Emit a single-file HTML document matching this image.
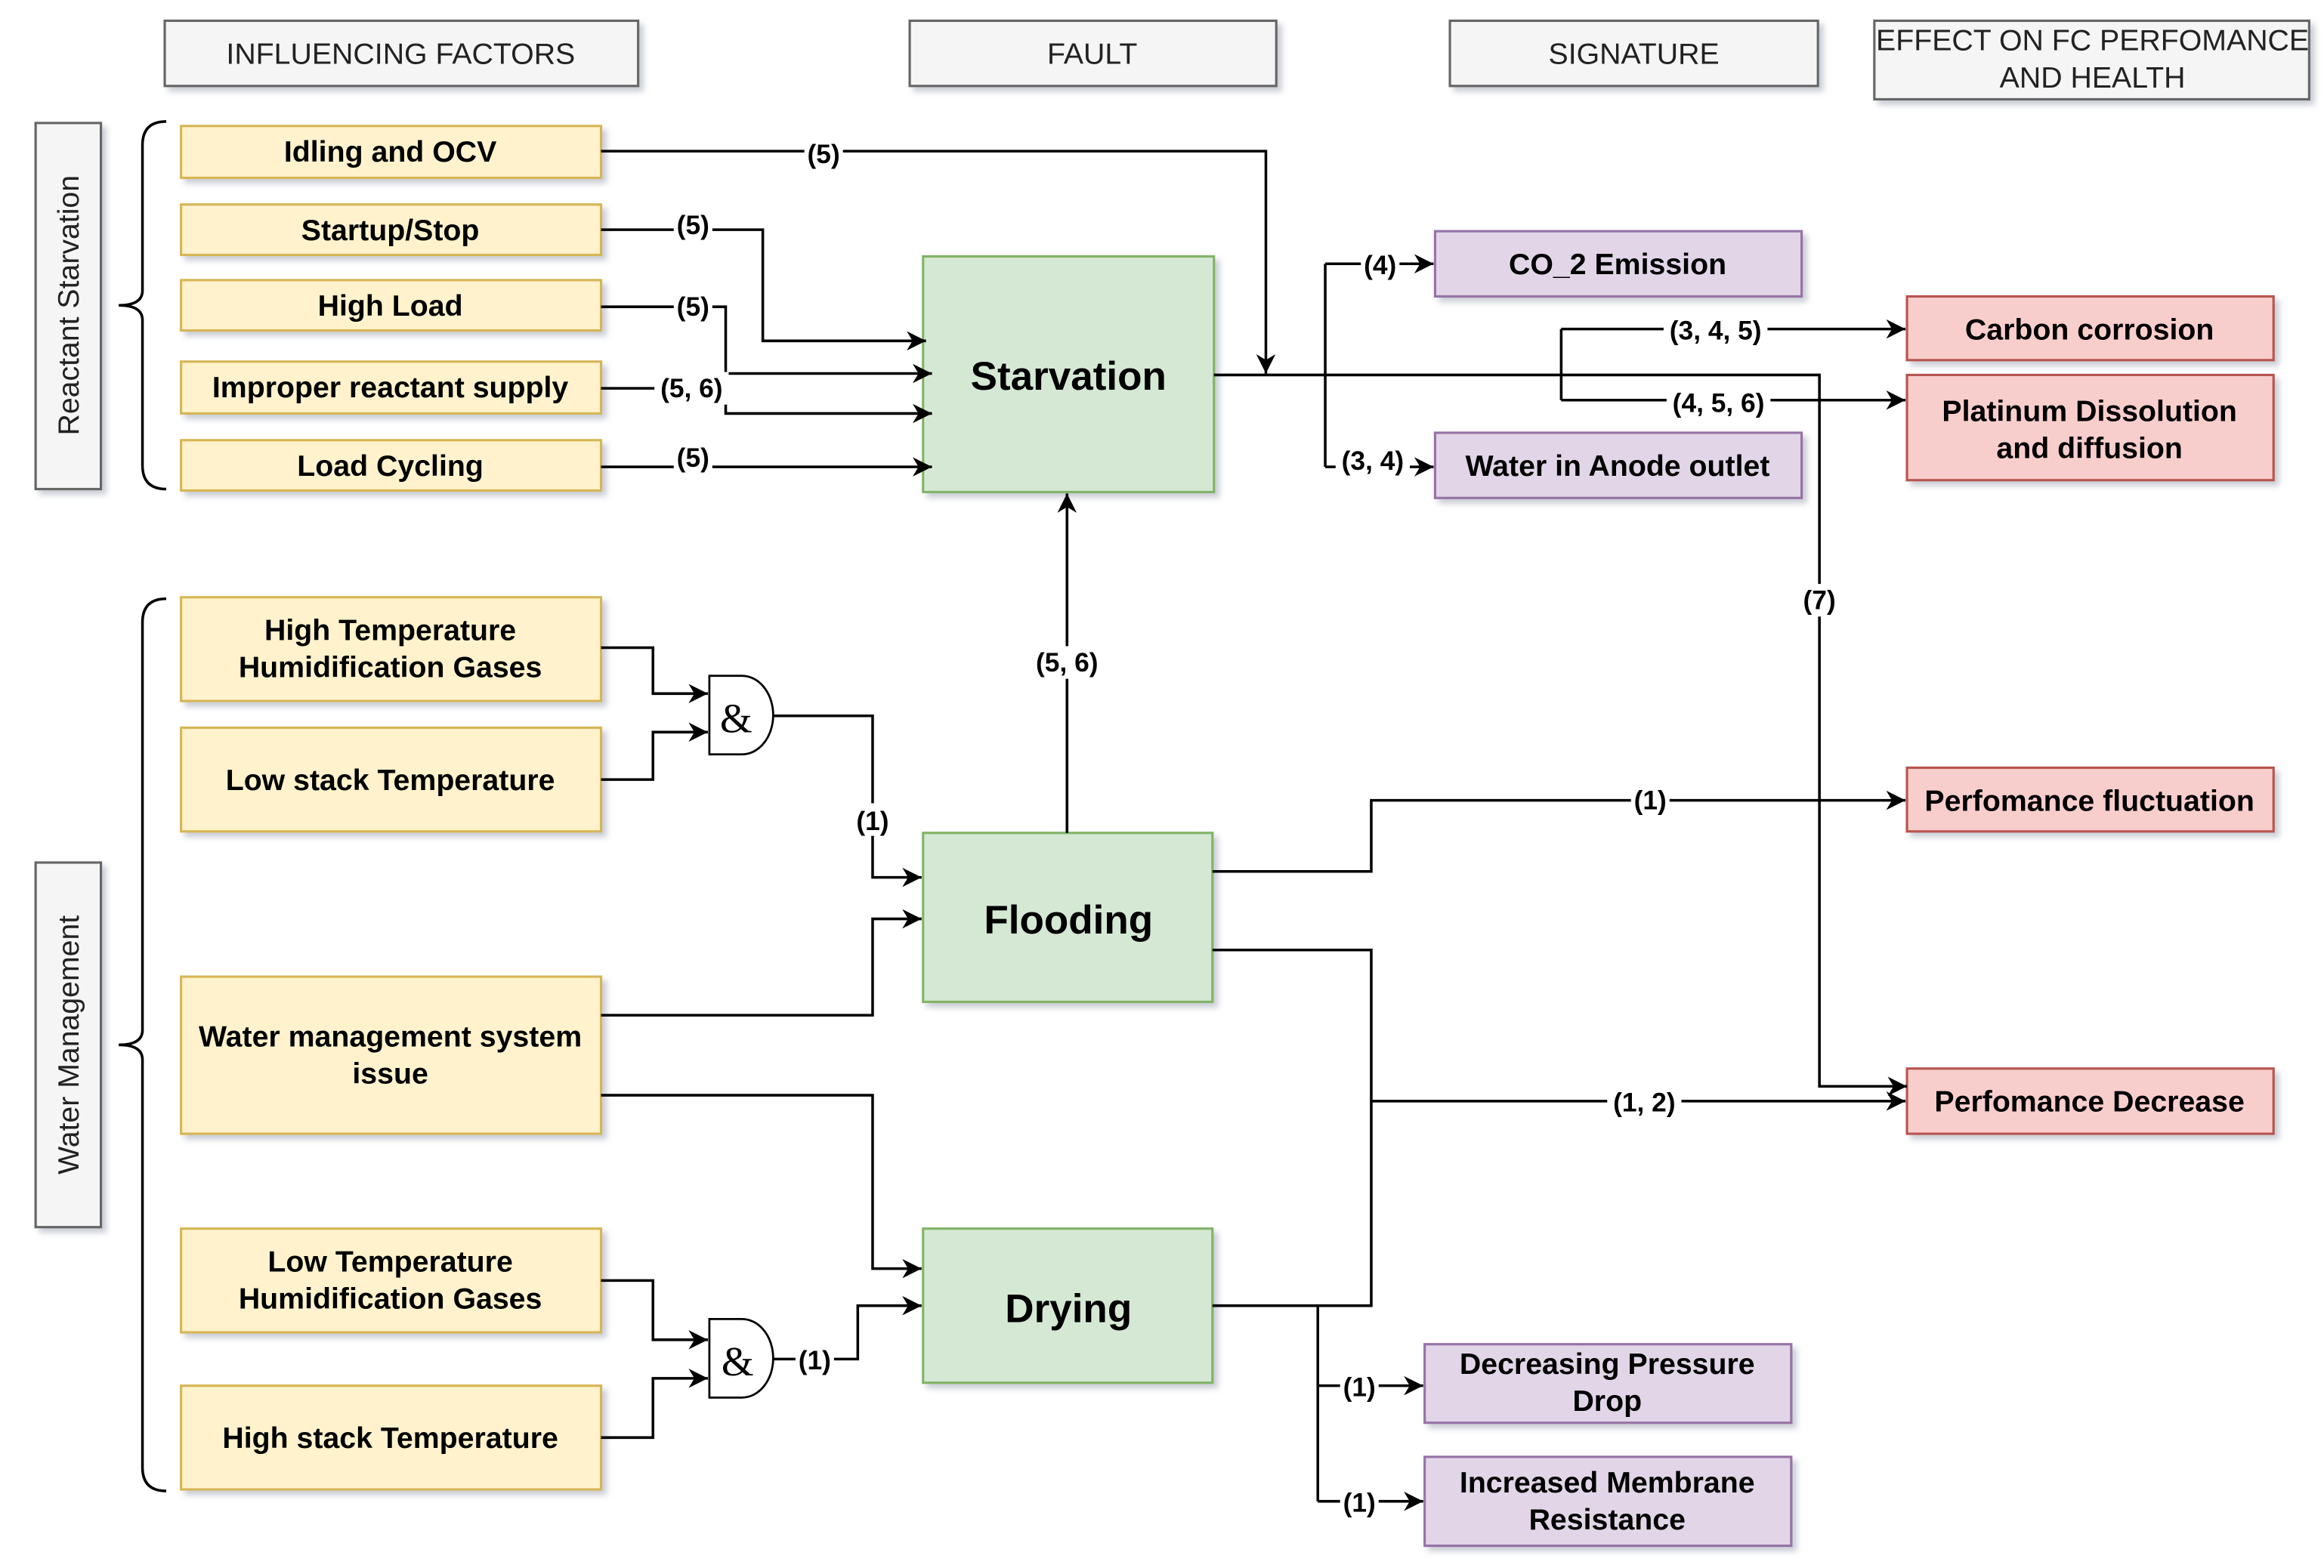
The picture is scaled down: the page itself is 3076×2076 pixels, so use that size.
<!DOCTYPE html>
<html><head><meta charset="utf-8"><style>html,body{margin:0;padding:0;background:#fff}svg{display:block}</style></head><body>
<svg width="3076" height="2076" viewBox="0 0 1566 1058" preserveAspectRatio="none" xmlns="http://www.w3.org/2000/svg" font-family="Liberation Sans, Arial, sans-serif">
<defs>
<filter id="sh" x="-10%" y="-10%" width="130%" height="140%"><feDropShadow dx="3" dy="3" stdDeviation="2" flood-color="#8890a0" flood-opacity="0.45"/></filter>
<marker id="ar" viewBox="0 0 10 10" refX="10" refY="5" markerWidth="13" markerHeight="13" orient="auto" markerUnits="userSpaceOnUse"><path d="M0,0 L10,5 L0,10 L3,5 z" fill="#000"/></marker>
</defs>
<style>
.h{fill:#f5f5f5;stroke:#666;stroke-width:1.6}
.y{fill:#fff2cc;stroke:#d6b656;stroke-width:1.6}
.g{fill:#d5e8d4;stroke:#82b366;stroke-width:1.6}
.p{fill:#e1d5e7;stroke:#9673a6;stroke-width:1.6}
.r{fill:#f8cecc;stroke:#b85450;stroke-width:1.6}
.t{font-weight:bold;font-size:20px;text-anchor:middle;fill:#000}
.big{font-size:27px}
.hd{font-size:20px;text-anchor:middle;fill:#222}
.l{fill:none;stroke:#000;stroke-width:1.8}
.la{fill:none;stroke:#000;stroke-width:1.8;marker-end:url(#ar)}
.lb{font-weight:bold;font-size:18px;text-anchor:middle}
</style>
<g filter="url(#sh)">
<rect class="h" x="111" y="14" width="319" height="44"/>
<rect class="h" x="613" y="14" width="247" height="44"/>
<rect class="h" x="977" y="14" width="248" height="44"/>
<rect class="h" x="1263" y="14" width="293" height="53"/>
<rect class="h" x="24" y="83" width="44" height="247"/>
<rect class="h" x="24" y="582" width="44" height="246"/>
<rect class="y" x="122" y="85" width="283" height="35"/>
<rect class="y" x="122" y="138" width="283" height="34"/>
<rect class="y" x="122" y="189" width="283" height="34"/>
<rect class="y" x="122" y="244" width="283" height="35"/>
<rect class="y" x="122" y="297" width="283" height="34"/>
<rect class="y" x="122" y="403" width="283" height="70"/>
<rect class="y" x="122" y="491" width="283" height="70"/>
<rect class="y" x="122" y="659" width="283" height="106"/>
<rect class="y" x="122" y="829" width="283" height="70"/>
<rect class="y" x="122" y="935" width="283" height="70"/>
<rect class="g" x="622" y="173" width="196" height="159"/>
<rect class="g" x="622" y="562" width="195" height="114"/>
<rect class="g" x="622" y="829" width="195" height="104"/>
<rect class="p" x="967" y="156" width="247" height="44"/>
<rect class="p" x="967" y="292" width="247" height="44"/>
<rect class="p" x="960" y="907" width="247" height="53"/>
<rect class="p" x="960" y="983" width="247" height="60"/>
<rect class="r" x="1285" y="200" width="247" height="43"/>
<rect class="r" x="1285" y="253" width="247" height="71"/>
<rect class="r" x="1285" y="518" width="247" height="43"/>
<rect class="r" x="1285" y="721" width="247" height="44"/>
</g>
<text class="hd" x="270" y="43">INFLUENCING FACTORS</text>
<text class="hd" x="736" y="43">FAULT</text>
<text class="hd" x="1101" y="43">SIGNATURE</text>
<text class="hd" x="1410" y="34">EFFECT ON FC PERFOMANCE</text>
<text class="hd" x="1410" y="59">AND HEALTH</text>
<text class="hd" transform="translate(53,206) rotate(-90)">Reactant Starvation</text>
<text class="hd" transform="translate(53,705) rotate(-90)">Water Management</text>
<path class="l" d="M112,82 Q96,82 96,98 L96,196 Q96,206 80,206 Q96,206 96,216 L96,314 Q96,330 112,330"/>
<path class="l" d="M112,404 Q96,404 96,420 L96,695 Q96,705 80,705 Q96,705 96,715 L96,990 Q96,1006 112,1006"/>
<text class="t" x="263" y="109">Idling and OCV</text>
<text class="t" x="263" y="162">Startup/Stop</text>
<text class="t" x="263" y="213">High Load</text>
<text class="t" x="263" y="268">Improper reactant supply</text>
<text class="t" x="263" y="321">Load Cycling</text>
<text class="t" x="263" y="432">High Temperature</text>
<text class="t" x="263" y="457">Humidification Gases</text>
<text class="t" x="263" y="533">Low stack Temperature</text>
<text class="t" x="263" y="706">Water management system</text>
<text class="t" x="263" y="731">issue</text>
<text class="t" x="263" y="858">Low Temperature</text>
<text class="t" x="263" y="883">Humidification Gases</text>
<text class="t" x="263" y="977">High stack Temperature</text>
<text class="t big" x="720" y="263">Starvation</text>
<text class="t big" x="720" y="630">Flooding</text>
<text class="t big" x="720" y="892">Drying</text>
<text class="t" x="1090" y="185">CO_2 Emission</text>
<text class="t" x="1090" y="321">Water in Anode outlet</text>
<text class="t" x="1083" y="927">Decreasing Pressure</text>
<text class="t" x="1083" y="952">Drop</text>
<text class="t" x="1083" y="1007">Increased Membrane</text>
<text class="t" x="1083" y="1032">Resistance</text>
<text class="t" x="1408" y="229">Carbon corrosion</text>
<text class="t" x="1408" y="284">Platinum Dissolution</text>
<text class="t" x="1408" y="309">and diffusion</text>
<text class="t" x="1408" y="547">Perfomance fluctuation</text>
<text class="t" x="1408" y="750">Perfomance Decrease</text>
<path d="M478,456 L500,456 A21,26.5 0 0 1 500,509 L478,509 Z" fill="#fff" stroke="#000" stroke-width="1.4"/>
<text x="496" y="494" font-size="28" text-anchor="middle" font-family="Liberation Serif, serif">&amp;</text>
<path d="M478,890 L500,890 A21,26.5 0 0 1 500,943 L478,943 Z" fill="#fff" stroke="#000" stroke-width="1.4"/>
<text x="497" y="928" font-size="28" text-anchor="middle" font-family="Liberation Serif, serif">&amp;</text>
<path class="la" d="M405,102 L853,102 L853,252"/>
<path class="la" d="M405,155 L514,155 L514,230 L624,230"/>
<path class="la" d="M405,207 L489,207 L489,252 L628,252"/>
<path class="la" d="M405,262 L489,262 L489,279 L628,279"/>
<path class="la" d="M405,315 L628,315"/>
<path class="la" d="M818,253 L1226,253 L1226,733 L1285,733"/>
<path class="l" d="M893,253 L893,178 L893,315"/>
<path class="la" d="M893,178 L966,178"/>
<path class="la" d="M893,315 L966,315"/>
<path class="l" d="M1052,222 L1052,270"/>
<path class="la" d="M1052,222 L1284,222"/>
<path class="la" d="M1052,270 L1284,270"/>
<path class="la" d="M405,437 L440,437 L440,468 L477,468"/>
<path class="la" d="M405,526 L440,526 L440,494 L477,494"/>
<path class="la" d="M521,483 L588,483 L588,592 L621,592"/>
<path class="la" d="M405,685 L588,685 L588,620 L621,620"/>
<path class="la" d="M405,739 L588,739 L588,856 L621,856"/>
<path class="la" d="M405,864 L440,864 L440,904 L477,904"/>
<path class="la" d="M405,970 L440,970 L440,930 L477,930"/>
<path class="la" d="M521,917 L578,917 L578,881 L621,881"/>
<path class="la" d="M719,562 L719,333"/>
<path class="la" d="M817,588 L924,588 L924,540 L1284,540"/>
<path class="l" d="M817,641 L924,641 L924,881 L817,881"/>
<path class="la" d="M924,743 L1284,743"/>
<path class="l" d="M888,881 L888,1013"/>
<path class="la" d="M888,935 L959,935"/>
<path class="la" d="M888,1013 L959,1013"/>
<g class="lb">
<rect x="542" y="92" width="26" height="22" fill="#fff"/><text x="555" y="110">(5)</text>
<rect x="454" y="141" width="26" height="22" fill="#fff"/><text x="467" y="158">(5)</text>
<rect x="454" y="195" width="26" height="22" fill="#fff"/><text x="467" y="213">(5)</text>
<rect x="441" y="251" width="50" height="22" fill="#fff"/><text x="466" y="268">(5, 6)</text>
<rect x="454" y="297" width="26" height="22" fill="#fff"/><text x="467" y="315">(5)</text>
<rect x="917" y="168" width="26" height="22" fill="#fff"/><text x="930" y="185">(4)</text>
<rect x="900" y="300" width="50" height="22" fill="#fff"/><text x="925" y="317">(3, 4)</text>
<rect x="1121" y="211" width="70" height="22" fill="#fff"/><text x="1156" y="229">(3, 4, 5)</text>
<rect x="1123" y="260" width="70" height="22" fill="#fff"/><text x="1158" y="278">(4, 5, 6)</text>
<rect x="1213" y="394" width="26" height="22" fill="#fff"/><text x="1226" y="411">(7)</text>
<rect x="694" y="436" width="50" height="22" fill="#fff"/><text x="719" y="453">(5, 6)</text>
<rect x="575" y="542" width="26" height="22" fill="#fff"/><text x="588" y="560">(1)</text>
<rect x="1099" y="529" width="26" height="22" fill="#fff"/><text x="1112" y="546">(1)</text>
<rect x="1083" y="732" width="50" height="22" fill="#fff"/><text x="1108" y="750">(1, 2)</text>
<rect x="536" y="906" width="26" height="22" fill="#fff"/><text x="549" y="924">(1)</text>
<rect x="903" y="924" width="26" height="22" fill="#fff"/><text x="916" y="942">(1)</text>
<rect x="903" y="1002" width="26" height="22" fill="#fff"/><text x="916" y="1020">(1)</text>
</g>
</svg>
</body></html>
